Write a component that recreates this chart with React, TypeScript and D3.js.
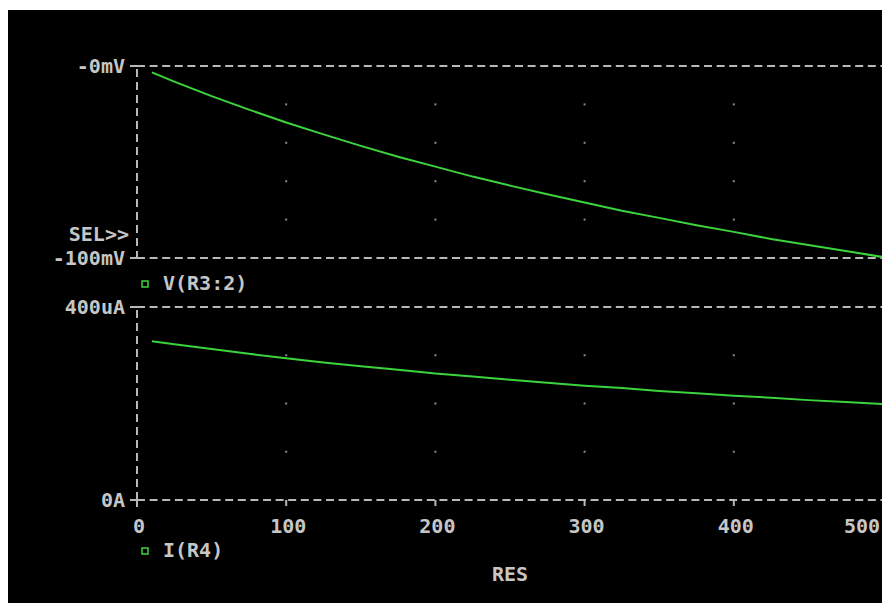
import React, { useEffect, useRef } from "react";
import * as d3 from "d3";

// sweep of RES (ohms) and the two traces
const resValues = [10, 25, 50, 75, 100, 125, 150, 175, 200, 225, 250, 275, 300, 325, 350, 375, 400, 425, 450, 475, 500];
const vR3Values = [-3.3, -8.1, -15.7, -22.7, -29.4, -35.6, -41.6, -47.3, -52.4, -57.6, -62.3, -66.8, -71.1, -75.4, -79.1, -82.9, -86.4, -90.1, -93.2, -96.4, -99.5];
const iR4Values = [329, 323, 313, 303, 294, 285, 277, 270, 262, 256, 249, 243, 237, 232, 226, 221, 216, 212, 207, 203, 199];

const xTickValues = [0, 100, 200, 300, 400, 500];
const xTickLabels = ["0", "100", "200", "300", "400", "500"];
const vTickValues = [0, -100];
const vTickLabels = ["-0mV", "-100mV"];
const vGridValues = [-20, -40, -60, -80];
const iTickValues = [400, 0];
const iTickLabels = ["400uA", "0A"];
const iGridValues = [100, 200, 300];

const GREEN = "#3cd43c";
const GRAY = "#b8b8b8";
const TEXT = "#c6c6c6";
const FONT = "'DejaVu Sans Mono', monospace";

const App: React.FC = () => {
  const vPath = useRef<SVGPathElement>(null);
  const iPath = useRef<SVGPathElement>(null);

  // create scales
  const x = d3.scaleLinear().domain([0, 500]).range([137, 883]);
  const yV = d3.scaleLinear().domain([-100, 0]).range([258, 66]);
  const yI = d3.scaleLinear().domain([0, 400]).range([500, 307]);

  useEffect(() => {
    const vLine = d3
      .line<number>()
      .x((_, i) => x(resValues[i]))
      .y(d => yV(d));
    const iLine = d3
      .line<number>()
      .x((_, i) => x(resValues[i]))
      .y(d => yI(d));
    if (vPath.current) d3.select(vPath.current).attr("d", vLine(vR3Values) as string);
    if (iPath.current) d3.select(iPath.current).attr("d", iLine(iR4Values) as string);
  }, []);

  const left = x(0);
  const right = 882;

  const hLine = (y: number, key: string) => (
    <g key={key}>
      <line x1={left - 7} x2={left} y1={y} y2={y} stroke={GRAY} strokeWidth={2} />
      <line x1={left} x2={right} y1={y} y2={y} stroke={GRAY} strokeWidth={2} strokeDasharray="8 4.6" />
    </g>
  );

  return (
    <svg width={882} height={603} style={{ position: "absolute", left: 0, top: 0 }}>
      <rect x={0} y={0} width={882} height={603} fill="#fff" />
      <rect x={8} y={10} width={874} height={593} fill="#000" />

      {/* grid dots */}
      {xTickValues.slice(1, 5).map(xv =>
        vGridValues.map(v => (
          <rect key={`v${xv}${v}`} x={x(xv) - 1} y={yV(v) - 1} width={2} height={2} fill="#8a8a8a" />
        ))
      )}
      {xTickValues.slice(1, 5).map(xv =>
        iGridValues.map(v => (
          <rect key={`i${xv}${v}`} x={x(xv) - 1} y={yI(v) - 1} width={2} height={2} fill="#8a8a8a" />
        ))
      )}

      {/* y axes, dashed */}
      <line x1={left} x2={left} y1={yV(0) + 3} y2={yV(-100)} stroke={GRAY} strokeWidth={2} strokeDasharray="8 5" />
      <line x1={left} x2={left} y1={yI(400) + 3} y2={yI(0) + 7} stroke={GRAY} strokeWidth={2} strokeDasharray="8 5" />

      {/* horizontal grid/limit lines */}
      {vTickValues.map(v => hLine(yV(v), `vh${v}`))}
      {iTickValues.map(v => hLine(yI(v), `ih${v}`))}

      {/* x ticks under 0A line */}
      {xTickValues.slice(0, 5).map(v => (
        <line key={`xt${v}`} x1={x(v)} x2={x(v)} y1={yI(0)} y2={yI(0) + 6} stroke={GRAY} strokeWidth={2} />
      ))}

      <g fontFamily={FONT} fontSize={20} fontWeight="bold" fill={TEXT}>
        {vTickValues.map((v, i) => (
          <text key={`vl${v}`} x={125} y={yV(v) + 7} textAnchor="end">
            {vTickLabels[i]}
          </text>
        ))}
        {iTickValues.map((v, i) => (
          <text key={`il${v}`} x={125} y={yI(v) + 7} textAnchor="end">
            {iTickLabels[i]}
          </text>
        ))}
        {xTickValues.map((v, i) => (
          <text
            key={`xl${v}`}
            x={i === xTickValues.length - 1 ? 880 : x(v) + 2}
            y={533}
            textAnchor={i === xTickValues.length - 1 ? "end" : "middle"}
          >
            {xTickLabels[i]}
          </text>
        ))}
        <text x={129} y={241} textAnchor="end">SEL&gt;&gt;</text>
        <text x={163} y={290}>V(R3:2)</text>
        <text x={163} y={557}>I(R4)</text>
        <text x={510} y={581} textAnchor="middle">RES</text>
      </g>

      {/* legend markers */}
      <rect x={142} y={281} width={6} height={6} fill="none" stroke={GREEN} strokeWidth={1.5} />
      <rect x={142} y={548} width={6} height={6} fill="none" stroke={GREEN} strokeWidth={1.5} />

      {/* traces */}
      <path ref={vPath} fill="none" stroke={GREEN} strokeWidth={2} />
      <path ref={iPath} fill="none" stroke={GREEN} strokeWidth={2} />
    </svg>
  );
};

export default App;
